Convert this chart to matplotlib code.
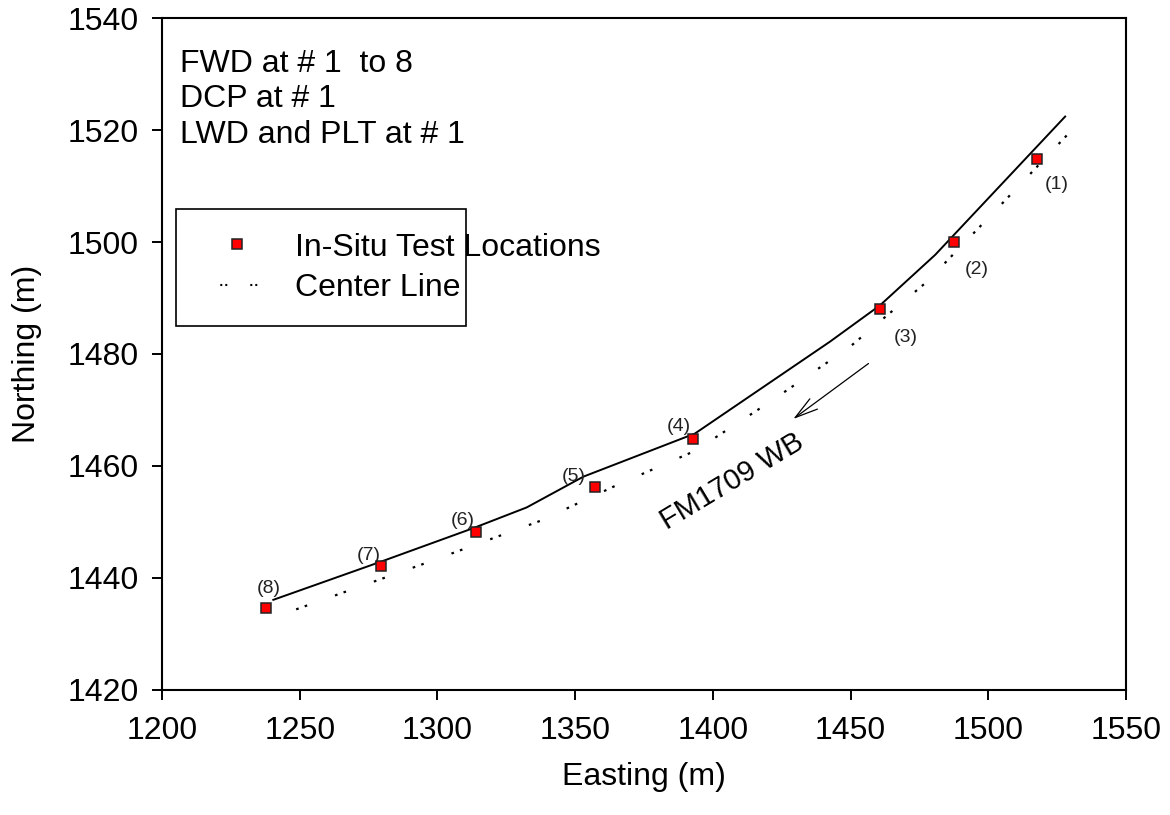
import matplotlib
matplotlib.use("Agg")
import matplotlib.pyplot as plt
from matplotlib.lines import Line2D

plt.rcParams['font.family'] = ['Liberation Sans', 'DejaVu Sans']
plt.rcParams['lines.scale_dashes'] = False

# In-situ test locations (easting, northing) and their labels
test_east = [1517.6, 1487.6, 1460.7, 1392.7, 1357.3, 1314.0, 1279.4, 1237.7]
test_north = [1514.8, 1500.0, 1488.0, 1464.8, 1456.3, 1448.2, 1442.1, 1434.6]
test_labels = ['(1)', '(2)', '(3)', '(4)', '(5)', '(6)', '(7)', '(8)']
label_east = [1524.9, 1495.8, 1470.1, 1387.5, 1349.4, 1309.0, 1275.0, 1238.9]
label_north = [1510.2, 1495.0, 1482.9, 1467.0, 1458.1, 1450.2, 1444.1, 1438.2]

# Road edge (solid line)
edge_east = [1240.4, 1279.4, 1313.0, 1332.4, 1353.0, 1393.5, 1442.5, 1460.7, 1480.7, 1527.9]
edge_north = [1436.1, 1442.9, 1448.9, 1452.6, 1458.1, 1465.8, 1482.2, 1488.7, 1497.7, 1522.4]

# Center line
center_east = [1248.7, 1294.8, 1337.3, 1365.2, 1393.5, 1421.5, 1449.8, 1477.7, 1504.3, 1529.0]
center_north = [1434.4, 1442.5, 1450.2, 1456.6, 1462.7, 1471.7, 1481.3, 1492.9, 1506.5, 1519.3]

notes = ['FWD at # 1  to 8', 'DCP at # 1', 'LWD and PLT at # 1']

x_ticks = [1200, 1250, 1300, 1350, 1400, 1450, 1500, 1550]
y_ticks = [1420, 1440, 1460, 1480, 1500, 1520, 1540]

FS = 23

fig = plt.figure(figsize=(11.70, 8.15), dpi=100)
ax = fig.add_axes([0.1385, 0.1534, 0.9624 - 0.1385, 0.9779 - 0.1534])

ax.plot(edge_east, edge_north, color='black', lw=1.4, solid_joinstyle='round', zorder=2)

center_dash = (0, (1.9, 4.6, 1.9, 21.3))
ax.plot(center_east, center_north, color='black', lw=1.6,
        linestyle=center_dash, dash_capstyle='butt', zorder=2)

ax.plot(test_east, test_north, linestyle='none', marker='s', markersize=7,
        markerfacecolor='#ff0000', markeredgecolor='#222222', markeredgewidth=1.1, zorder=3)

for xe, yn, lab in zip(label_east, label_north, test_labels):
    ax.text(xe, yn, lab, fontsize=14, ha='center', va='center', color='#222222')

# Travel direction arrow and road name
ax.annotate('', xy=(1429.2, 1468.4), xytext=(1456.5, 1478.3),
            arrowprops=dict(arrowstyle='->,head_length=1.65,head_width=0.46',
                            mutation_scale=10, lw=0.9, color='black',
                            shrinkA=0, shrinkB=0))
ax.text(1407.0, 1457.2, 'FM1709 WB', fontsize=21, rotation=31,
        rotation_mode='anchor', ha='center', va='center')

for yf, note in zip([0.9201, 0.8671, 0.8144], notes):
    ax.text(0.0187, yf, note, transform=ax.transAxes, fontsize=FS,
            ha='left', va='baseline')

handles = [
    Line2D([], [], linestyle='none', marker='s', markersize=7,
           markerfacecolor='#ff0000', markeredgecolor='#222222', markeredgewidth=1.1),
    Line2D([], [], color='black', lw=1.5, linestyle=(7.0, (1.44, 2.16, 1.44, 16.56)),
           dash_capstyle='butt'),
]
leg = ax.legend(handles, ['In-Situ Test Locations', 'Center Line'],
                loc='upper left', bbox_to_anchor=(0.0145, 0.0, 0.3008, 0.7158),
                mode='expand', borderaxespad=0, fontsize=FS, frameon=True,
                fancybox=False, edgecolor='black', framealpha=1,
                borderpad=0.74, labelspacing=0.32, handlelength=2.35,
                handletextpad=0.64)
leg.get_frame().set_linewidth(1.2)

ax.set_xlim(1200, 1550)
ax.set_ylim(1420, 1540)
ax.set_xticks(x_ticks)
ax.set_yticks(y_ticks)
ax.tick_params(axis='both', direction='out', length=7, width=1.4, labelsize=FS)
ax.tick_params(axis='x', pad=12)
ax.tick_params(axis='y', pad=10)
for sp in ax.spines.values():
    sp.set_linewidth(1.5)

ax.set_xlabel('Easting (m)', fontsize=FS, labelpad=11)
ax.set_ylabel('Northing (m)', fontsize=FS, labelpad=18)

fig.savefig('out.png', dpi=100)
